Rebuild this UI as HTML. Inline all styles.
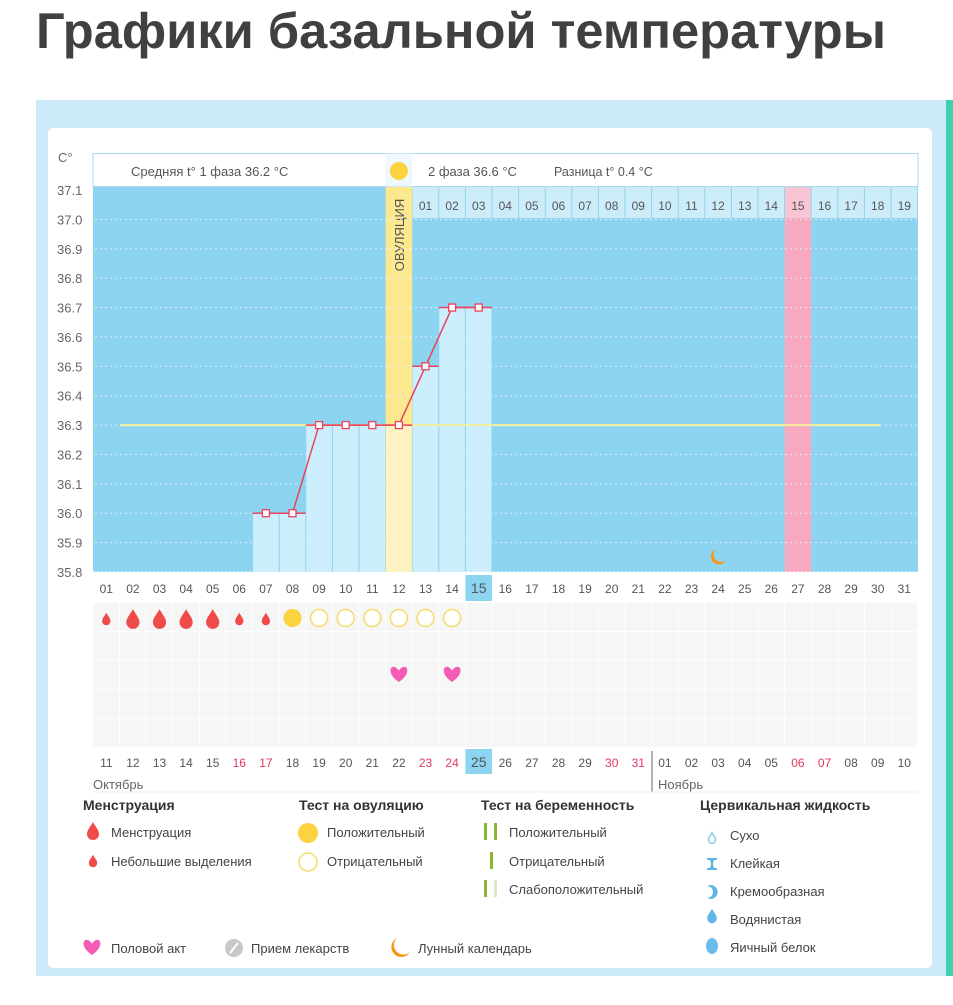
<!DOCTYPE html>
<html><head><meta charset="utf-8">
<style>
html,body{margin:0;padding:0;background:#fff;}
body{width:953px;height:1000px;overflow:hidden;font-family:"Liberation Sans","DejaVu Sans",sans-serif;}
svg text{font-family:"Liberation Sans","DejaVu Sans",sans-serif;}
</style></head>
<body>
<svg id="c" width="953" height="1000" viewBox="0 0 953 1000" xmlns="http://www.w3.org/2000/svg">
<text x="36" y="48" font-size="50" font-weight="bold" fill="#404040" textLength="850" lengthAdjust="spacingAndGlyphs">Графики базальной температуры</text>
<rect x="36" y="100" width="910" height="876" fill="#cdeaf8"/>
<rect x="946" y="100" width="7" height="876" fill="#3ccfb0"/>
<rect x="48" y="128" width="884" height="840" rx="5" fill="#fff"/>
<g id="g"></g>
</svg>
<script>
const temps = [null,null,null,null,null,null,36.0,36.0,36.3,36.3,36.3,36.3,36.5,36.7,36.7];
const topDates = ["01","02","03","04","05","06","07","08","09","10","11","12","13","14","15","16","17","18","19","20","21","22","23","24","25","26","27","28","29","30","31"];
const bottomDates = ["11","12","13","14","15","16","17","18","19","20","21","22","23","24","25","26","27","28","29","30","31","01","02","03","04","05","06","07","08","09","10"];
const redBottom = [5,6,12,13,19,20,26,27];
const cycleDays = ["01","02","03","04","05","06","07","08","09","10","11","12","13","14","15","16","17","18","19"];
const yTicks = [37.1,37.0,36.9,36.8,36.7,36.6,36.5,36.4,36.3,36.2,36.1,36.0,35.9,35.8];
const menses = [1,2,2,2,2,1,1];
const ovTests = [1,0,0,0,0,0,0];
const hearts = [12,14];
const coverline = 36.3;
const ovDay = 12, pinkDay = 27, moonDay = 24, today = 15;

const NS="http://www.w3.org/2000/svg", G=document.getElementById('g');
const X0=93, CW=26.6, YT=190, YB=572;
const x = i => X0 + i*CW;            // left edge of column i (0-based)
const xc = i => X0 + (i+0.5)*CW;
const y = t => YB - (t-35.8)/(1.3)*(YB-YT);
function el(tag, at, parent){const e=document.createElementNS(NS,tag);for(const k in at)e.setAttribute(k,at[k]);(parent||G).appendChild(e);return e;}
function tx(s,at,parent){const e=el('text',at,parent);e.textContent=s;return e;}

// header box
let e;
e=el('rect',{x:93,y:153.5,width:825,height:33,fill:'#fff',stroke:'#a9d9ef'});


e=tx('Средняя t° 1 фаза 36.2 °C',{x:131,y:176,'font-size':13,fill:'#555'});


e=tx('2 фаза 36.6 °C',{x:428,y:176,'font-size':13,fill:'#555'});


e=tx('Разница t° 0.4 °C',{x:554,y:176,'font-size':12.5,fill:'#555'});


el('rect',{x:x(ovDay-1),y:153.5,width:CW,height:33,fill:'#eef8fd'});
e=el('circle',{cx:xc(ovDay-1),cy:171,r:9,fill:'#fcd23e'});


tx('C°',{x:58,y:162,'font-size':13,fill:'#666'});

// plot background
e=el('rect',{x:93,y:187,width:825,height:385,fill:'#8dd4f0'});


// cycle day row
for(let j=0;j<cycleDays.length;j++){
  const i=ovDay+j;
  el('rect',{x:x(i)+0.5,y:187,width:CW-1,height:31,fill:i===pinkDay-1?'#f9c5d5':'#cdecfa'});
  e=tx(cycleDays[j],{x:xc(i),y:210,'font-size':12,fill:'#555','text-anchor':'middle'});
  
  
}
// pink column
e=el('rect',{x:x(pinkDay-1),y:218,width:CW,height:354,fill:'#f7a9c0'});


// ovulation column
e=el('rect',{x:x(ovDay-1),y:187,width:CW,height:385,fill:'#fbe88f'});


e=tx('ОВУЛЯЦИЯ',{x:0,y:0,'font-size':13,fill:'#555','text-anchor':'middle',transform:`translate(${xc(ovDay-1)+5},235) rotate(-90)`});



// gridlines
yTicks.forEach(t=>{
  if(t<37.05 && t>35.85){
    e=el('line',{x1:95,x2:918,y1:y(t),y2:y(t),stroke:'#e6f6fd','stroke-width':1,'stroke-dasharray':'2,3',opacity:0.8});
    
    
  }
  e=tx(t.toFixed(1),{x:57,y:y(t)+5,'font-size':13,fill:'#666'});
  
  
});
el('line',{x1:93,x2:918,y1:572,y2:572,stroke:'#fff','stroke-dasharray':'2,2'});

// bars
temps.forEach((t,i)=>{
  if(t==null) return;
  e=el('rect',{x:x(i)+0.5,y:y(t),width:CW-1,height:YB-y(t),fill:i===ovDay-1?'#fdf3c2':'#cdeefc'});
  
  
});
// coverline
e=el('line',{x1:120,x2:880,y1:y(coverline),y2:y(coverline),stroke:'#f3ef9a','stroke-width':2});


// line
let pts=[];
temps.forEach((t,i)=>{if(t!=null)pts.push(xc(i)+','+y(t));});
e=el('polyline',{points:pts.join(' '),fill:'none',stroke:'#e8445f','stroke-width':1.5});


temps.forEach((t,i)=>{
  if(t==null) return;
  el('line',{x1:x(i),x2:x(i)+CW,y1:y(t),y2:y(t),stroke:'#e8445f','stroke-width':1.5});
  e=el('rect',{x:xc(i)-3.5,y:y(t)-3.5,width:7,height:7,fill:'#fff',stroke:'#e8445f','stroke-width':1.3});
  
  
});
// moon
e=el('path',{d:`M${xc(moonDay-1)-2},${549} a8,8 0 1,0 10,11 a7,7 0 0,1 -10,-11z`,fill:'#f39a1e'});



// lower grid
el('rect',{x:93,y:575,width:825,height:200,fill:'#fff'});
for(let r=0;r<5;r++){
  for(let i=0;i<31;i++){
    el('rect',{x:x(i)+0.5,y:603+r*29,width:CW-1,height:28,fill:'#f6f6f6'});
  }
}
topDates.forEach((d,i)=>{
  if(i===today-1){el('rect',{x:x(i),y:575,width:CW,height:26,fill:'#8dd4f0'});}
  e=tx(d,{x:xc(i),y:593,'font-size':i===today-1?14:12,fill:'#555','text-anchor':'middle'});
  
  
});
bottomDates.forEach((d,i)=>{
  if(i===today-1){el('rect',{x:x(i),y:749,width:CW,height:25,fill:'#8dd4f0'});}
  e=tx(d,{x:xc(i),y:767,'font-size':i===today-1?14:12,fill:redBottom.includes(i)?'#e2365f':'#555','text-anchor':'middle'});
  
  
});
el('line',{x1:652,x2:652,y1:751,y2:792,stroke:'#666'});
e=tx('Октябрь',{x:93,y:789,'font-size':13,fill:'#666'});


e=tx('Ноябрь',{x:658,y:789,'font-size':13,fill:'#666'});


el('line',{x1:93,x2:918,y1:792,y2:792,stroke:'#eee'});

function drop(cx,cy,s,col){return el('path',{d:`M${cx},${cy-9*s} C${cx+2*s},${cy-5*s} ${cx+6*s},${cy-1*s} ${cx+6*s},${cy+3*s} A${6*s},${6*s} 0 0 1 ${cx-6*s},${cy+3*s} C${cx-6*s},${cy-1*s} ${cx-2*s},${cy-5*s} ${cx},${cy-9*s}z`,fill:col});}
function heart(cx,cy,col){return el('path',{d:`M${cx},${cy+7} C${cx-12},${cy-1} ${cx-9},${cy-10} ${cx-4},${cy-8} C${cx-2},${cy-7} ${cx},${cy-5} ${cx},${cy-4} C${cx},${cy-5} ${cx+2},${cy-7} ${cx+4},${cy-8} C${cx+9},${cy-10} ${cx+12},${cy-1} ${cx},${cy+7}z`,fill:col});}
menses.forEach((m,i)=>{
  e=drop(xc(i),619,m===2?1.1:0.7,'#f04b4b');
  
  
});
for(let i=7;i<14;i++){
  const pos=ovTests[i-7];
  e=el('circle',{cx:xc(i),cy:618,r:pos?9:8.5,fill:pos?'#fcd23e':'#fff',stroke:'#f6dc72','stroke-width':pos?0:1.6});
  
  
}
hearts.forEach(d=>{
  e=heart(xc(d-1),675,'#f45bb5');
  
  
});

// legend
function lt(s,xx,yy,b,name){const t=tx(s,{x:xx,y:yy,'font-size':b?14:13,'font-weight':b?'bold':'normal',fill:b?'#333':'#444'});return t;}
lt('Менструация',83,810,1,'legend-title-menstruation');
drop(93,831,1,'#f04b4b'); lt('Менструация',111,837,0,'legend-entry-menstruation');
drop(93,861,0.7,'#f04b4b'); lt('Небольшие выделения',111,866,0,'legend-entry-spotting');
lt('Тест на овуляцию',299,810,1,'legend-title-ovulation-test');
el('circle',{cx:308,cy:833,r:10,fill:'#fcd23e'}); lt('Положительный',327,837,0,'legend-entry-ovulation-positive');
el('circle',{cx:308,cy:862,r:9,fill:'#fff',stroke:'#f6dc72','stroke-width':1.6}); lt('Отрицательный',327,866,0,'legend-entry-ovulation-negative');
lt('Тест на беременность',481,810,1,'legend-title-pregnancy-test');
el('rect',{x:484,y:823,width:3,height:17,fill:'#8ab833'});el('rect',{x:494,y:823,width:3,height:17,fill:'#8ab833'});
lt('Положительный',509,837,0,'legend-entry-pregnancy-positive');
el('rect',{x:490,y:852,width:3,height:17,fill:'#8ab833'});
lt('Отрицательный',509,866,0,'legend-entry-pregnancy-negative');
el('rect',{x:484,y:880,width:3,height:17,fill:'#8ab833'});el('rect',{x:494,y:880,width:3,height:17,fill:'#dfe8c4'});
lt('Слабоположительный',509,894,0,'legend-entry-pregnancy-weak');
lt('Цервикальная жидкость',700,810,1,'legend-title-cervical-fluid');
e=drop(712,838,0.6,'#fff');e.setAttribute('stroke','#7cc3e8');e.setAttribute('stroke-width','1.3');
lt('Сухо',730,840,0,'legend-entry-dry');
el('path',{d:'M707,858 h10 v2 h-3 l-1,3 v2 l1,3 h3 v2 h-10 v-2 h3 l1,-3 v-2 l-1,-3 h-3z',fill:'#5fb5e6'});
lt('Клейкая',730,868,0,'legend-entry-sticky');
el('path',{d:'M707,886 a7,7 0 1 1 0,12 a6,6 0 0 0 0,-12z',fill:'#5fb5e6'});
lt('Кремообразная',730,896,0,'legend-entry-creamy');
drop(712,916,0.8,'#5fb5e6'); lt('Водянистая',730,924,0,'legend-entry-watery');
el('ellipse',{cx:712,cy:946,rx:6,ry:8,fill:'#6cbcec'}); lt('Яичный белок',730,952,0,'legend-entry-egg-white');
heart(92,948,'#f45bb5'); lt('Половой акт',111,953,0,'legend-entry-intercourse');
el('circle',{cx:234,cy:948,r:9,fill:'#c8c8c8'});el('line',{x1:230,y1:953,x2:238,y2:943,stroke:'#fff','stroke-width':2});
lt('Прием лекарств',251,953,0,'legend-entry-medication');
el('path',{d:'M397,938 a10,10 0 1,0 13,14 a9,9 0 0,1 -13,-14z',fill:'#f39a1e'});
lt('Лунный календарь',418,953,0,'legend-entry-lunar-calendar');
</script>
</body></html>
